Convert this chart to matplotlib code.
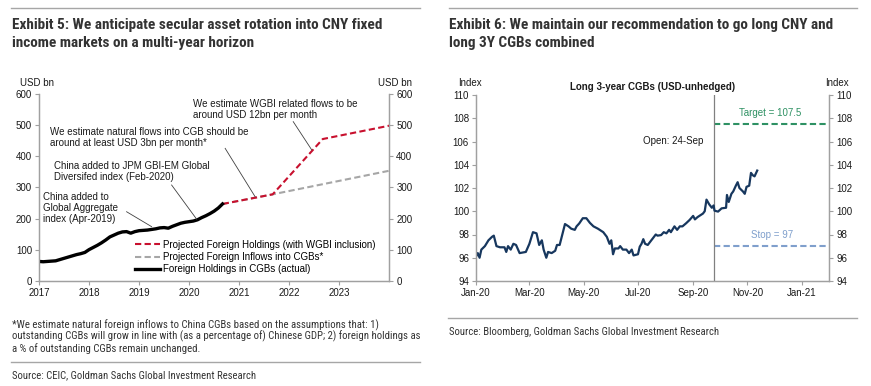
import matplotlib
matplotlib.use("Agg")
import matplotlib.pyplot as plt
import matplotlib.dates as mdates
from matplotlib import font_manager
from matplotlib.font_manager import FontProperties
import numpy as np
import pandas as pd

# ---------------- data ----------------
# Exhibit 5: foreign holdings of CGBs (USD bn), monthly Jan-2017 .. Sep-2020
actual_start = "2017-01"
actual_values = [62, 61, 62, 63, 64, 68, 72, 76, 80, 84, 87, 91,
                 100, 107, 114, 122, 131, 141, 147, 153, 157, 158, 153, 158,
                 161, 162, 163, 165, 167, 170, 171, 169, 175, 180, 185, 188,
                 190, 192, 196, 203, 209, 216, 224, 234, 247]
proj_natural_x = [2020.67, 2021.67, 2024.0]
proj_natural_y = [247, 278, 354]
proj_wgbi_x = [2020.67, 2021.67, 2022.67, 2024.0]
proj_wgbi_y = [247, 278, 456, 499]
left_yticks = [0, 100, 200, 300, 400, 500, 600]
left_xticks = [2017, 2018, 2019, 2020, 2021, 2022, 2023]

# Exhibit 6: Long 3-year CGBs (USD-unhedged) index; day offsets from 1-Jan-2020
cgb_days = [0, 2, 4, 6, 10, 14, 18, 20, 23, 27, 32, 34, 36, 39, 42, 45, 49, 56, 60, 64,
            68, 71, 74, 76, 79, 81, 85, 89, 91, 94, 97, 100, 104, 107, 111, 113, 116, 120,
            124, 128, 132, 137, 143, 147, 150, 152, 154, 156, 160, 162, 165, 169, 172, 175,
            177, 182, 184, 186, 188, 190, 193, 196, 199, 202, 204, 208, 211, 214, 217, 219,
            223, 226, 229, 232, 236, 240, 244, 246, 249, 255, 257, 259, 262, 265, 267, 268,
            272, 276, 281, 282, 284, 287, 289, 292, 294, 296, 300, 302, 304, 307, 309, 311,
            313, 316]
cgb_values = [96.1, 96.4, 96.0, 96.7, 97.0, 97.5, 97.8, 97.9, 97.0, 96.9, 96.9, 96.5,
              97.0, 96.7, 97.2, 97.1, 96.4, 96.5, 97.2, 98.2, 98.1, 97.1, 97.5, 96.7,
              96.0, 96.5, 96.4, 96.6, 97.1, 97.1, 98.0, 98.9, 98.7, 98.5, 98.4, 98.7,
              98.95, 99.4, 99.4, 99.0, 98.7, 98.5, 98.2, 97.8, 97.2, 97.5, 96.3, 96.8,
              96.8, 97.0, 96.7, 96.7, 96.4, 96.7, 96.2, 96.3, 96.95, 97.2, 97.6, 97.2,
              97.1, 97.4, 97.7, 98.0, 97.9, 97.95, 98.2, 98.1, 98.4, 98.2, 98.7, 98.4,
              98.7, 98.7, 98.96, 99.25, 99.6, 99.3, 99.5, 99.8, 100.0, 101.0, 100.6,
              100.3, 100.5, 100.05, 99.97, 100.25, 100.3, 101.4, 100.8, 101.5, 101.7,
              102.2, 102.5, 102.0, 101.7, 101.5, 102.1, 102.2, 103.3, 103.1, 103.0, 103.5]
open_date = "2020-09-24"
target_level = 107.5
stop_level = 97
right_yticks = [94, 96, 98, 100, 102, 104, 106, 108, 110]

# ---------------- fonts ----------------
avail = {f.name for f in font_manager.fontManager.ttflist}
body_font = "Liberation Sans" if "Liberation Sans" in avail else "DejaVu Sans"
plt.rcParams["font.family"] = [body_font, "DejaVu Sans"]
FS = 7.0
plt.rcParams["font.size"] = FS


def _is_bold(f):
    w = f.weight
    if isinstance(w, str):
        return "bold" in w.lower() or "black" in w.lower()
    return w >= 600


def find_narrow(bold):
    prefs = ["liberation sans narrow", "roboto condensed", "open sans condensed",
             "noto sans condensed", "dejavu sans condensed", "dejavu sans", "noto sans",
             "roboto", "open sans", "inter", "lato"]
    best = None
    for f in font_manager.fontManager.ttflist:
        nm = f.name.lower()
        fn = f.fname.lower()
        st = str(f.stretch).lower()
        narrow = ("narrow" in nm or "condensed" in nm or "narrow" in fn or "condensed" in fn
                  or "condensed" in st)
        if not narrow or "mono" in nm or "serif" in nm.replace("sans", "") and "sans" not in nm:
            continue
        if _is_bold(f) != bold or "italic" in fn or "oblique" in fn or str(f.style) != "normal":
            continue
        key = nm + (" condensed" if "condensed" in fn and "condensed" not in nm else "")
        rank = len(prefs)
        for i, p in enumerate(prefs):
            if key.startswith(p):
                rank = i
                break
        if best is None or rank < best[0]:
            best = (rank, f.fname)
    return best[1] if best else None


narrow_bold = find_narrow(True)
narrow_reg = find_narrow(False)


def fp(path, fallback_weight, size):
    if path:
        return FontProperties(fname=path, size=size)
    return FontProperties(family=body_font, weight=fallback_weight, size=size)


W, H = 871, 386
fig = plt.figure(figsize=(W / 100, H / 100), dpi=100)
renderer = fig.canvas.get_renderer()


def ftext(px, py, s, **kw):
    return fig.text(px / W, 1 - py / H, s, **kw)


def fit_width(t, target_px):
    w = t.get_window_extent(renderer=renderer).width
    if w > 0:
        t.set_fontsize(t.get_fontsize() * target_px / w)


def fline(x0, x1, py, color="#a6a6a6", lw=1.0):
    fig.add_artist(plt.Line2D([x0 / W, x1 / W], [1 - py / H, 1 - py / H],
                              color=color, lw=lw, transform=fig.transFigure))


title_color = "#333333"
spine_color = "#a0a0a0"
text_color = "#1a1a1a"


def style_axes(ax):
    for s in ["left", "right", "bottom"]:
        ax.spines[s].set_color(spine_color)
        ax.spines[s].set_linewidth(0.9)
    ax.spines["top"].set_visible(False)
    ax.tick_params(colors=spine_color, labelcolor=text_color, length=3, width=0.8,
                   labelsize=FS, pad=2)


# ---------------- Exhibit 5 ----------------
fline(11, 420, 8.3)
t = ftext(11.7, 25, "Exhibit 5: We anticipate secular asset rotation into CNY fixed",
          fontproperties=fp(narrow_bold, "bold", 11), color=title_color, va="center", ha="left")
fit_width(t, 369)
ftext(11.7, 43.3, "income markets on a multi-year horizon",
      fontproperties=fp(narrow_bold, "bold", t.get_fontsize()), color=title_color,
      va="center", ha="left")

ax1 = fig.add_axes([39 / W, 1 - 280.7 / H, 350.3 / W, 186.4 / H])
style_axes(ax1)
ax1.set_xlim(2017, 2024)
ax1.set_ylim(0, 600)
ax1.set_xticks(left_xticks)
ax1.set_xticklabels([str(v) for v in left_xticks])
ax1.set_yticks(left_yticks)

act_dates = pd.period_range(actual_start, periods=len(actual_values), freq="M")
act_x = np.array([p.year + (p.month - 1) / 12 for p in act_dates])
l_red, = ax1.plot(proj_wgbi_x, proj_wgbi_y, color="#c8102e", lw=1.5, ls=(0, (3, 1.6)),
                  label="Projected Foreign Holdings (with WGBI inclusion)", zorder=3)
l_grey, = ax1.plot(proj_natural_x, proj_natural_y, color="#a6a6a6", lw=1.5, ls=(0, (3, 1.6)),
                   label="Projected Foreign Inflows into CGBs*", zorder=2)
l_black, = ax1.plot(act_x, actual_values, color="black", lw=2.4,
                    label="Foreign Holdings in CGBs (actual)", zorder=4)

ax1r = ax1.twinx()
style_axes(ax1r)
ax1r.set_ylim(0, 600)
ax1r.set_yticks(left_yticks)

ax1.legend(handles=[l_red, l_grey, l_black], loc="lower left",
           bbox_to_anchor=(0.255, 0.0), frameon=False, fontsize=FS,
           handlelength=2.6, handletextpad=0.35, labelspacing=0.25, borderaxespad=0.25)

ann_kw = dict(fontsize=FS, color=text_color, ha="left", va="center", linespacing=1.15)
ax1.text(2020.07, 550, "We estimate WGBI related flows to be\naround USD 12bn per month", **ann_kw)
ax1.text(2017.22, 460, "We estimate natural flows into CGB should be\naround at least USD 3bn per month*", **ann_kw)
ax1.text(2017.30, 351, "China added to JPM GBI-EM Global\nDiversifed index (Feb-2020)", **ann_kw)
ax1.text(2017.074, 234, "China added to\nGlobal Aggregate\nindex (Apr-2019)", **ann_kw)
lead_kw = dict(color="#404040", lw=0.6, zorder=5)
ax1.plot([2022.08, 2022.45], [512, 421], **lead_kw)
ax1.plot([2020.72, 2021.32], [426, 270], **lead_kw)
ax1.plot([2019.65, 2020.15], [308, 198], **lead_kw)
ax1.plot([2018.75, 2019.25], [222, 174], **lead_kw)

ftext(36.5, 82.7, "USD bn", ha="center", va="center", fontsize=FS, color=text_color)
ftext(394.5, 82.7, "USD bn", ha="center", va="center", fontsize=FS, color=text_color)

foot_lines = ["*We estimate natural foreign inflows to China CGBs based on the assumptions that: 1)",
              "outstanding CGBs will grow in line with (as a percentage of) Chinese GDP; 2) foreign holdings as",
              "a % of outstanding CGBs remain unchanged."]
tf = ftext(11.7, 336.7, foot_lines[1], fontproperties=fp(narrow_reg, "normal", 7.5),
           color=title_color, ha="left", va="center")
fit_width(tf, 405)
fs_foot = tf.get_fontsize()
ftext(11.7, 325.0, foot_lines[0], fontproperties=fp(narrow_reg, "normal", fs_foot),
      color=title_color, ha="left", va="center")
ftext(11.7, 348.3, foot_lines[2], fontproperties=fp(narrow_reg, "normal", fs_foot),
      color=title_color, ha="left", va="center")
fline(11, 420, 361.7)
ts1 = ftext(11.7, 375, "Source: CEIC, Goldman Sachs Global Investment Research",
            fontproperties=fp(narrow_reg, "normal", 7.5), color=title_color, ha="left", va="center")
fit_width(ts1, 244)

# ---------------- Exhibit 6 ----------------
fline(449, 857, 8.3)
ftext(449.3, 25, "Exhibit 6: We maintain our recommendation to go long CNY and",
      fontproperties=fp(narrow_bold, "bold", t.get_fontsize()), color=title_color,
      va="center", ha="left")
ftext(449.3, 43.3, "long 3Y CGBs combined",
      fontproperties=fp(narrow_bold, "bold", t.get_fontsize()), color=title_color,
      va="center", ha="left")

ax2 = fig.add_axes([476 / W, 1 - 281 / H, 353.3 / W, 186 / H])
style_axes(ax2)
base = pd.Timestamp("2020-01-01")
cgb_dates = base + pd.to_timedelta(cgb_days, unit="D")
ax2.plot(cgb_dates, cgb_values, color="#17375e", lw=1.6, zorder=4)
end = pd.Timestamp("2021-02-01")
ax2.set_xlim(base, end)
ax2.set_ylim(94, 110)
ax2.set_yticks(right_yticks)
ax2.xaxis.set_major_locator(mdates.MonthLocator(bymonth=[1, 3, 5, 7, 9, 11]))
ax2.xaxis.set_major_formatter(mdates.DateFormatter("%b-%y"))

od = pd.Timestamp(open_date)
ax2.axvline(od, color="#808080", lw=0.9, zorder=3)
ax2.plot([od, end], [target_level, target_level], color="#2e9163", lw=1.5, ls=(0, (3, 1.6)))
ax2.plot([od, end], [stop_level, stop_level], color="#7f9fcc", lw=1.5, ls=(0, (3, 1.6)))
ax2.text(base + pd.Timedelta(days=255), 106, "Open: 24-Sep", ha="right", va="center",
         fontsize=FS, color=text_color)
ax2.text(base + pd.Timedelta(days=331), 108.48, "Target = 107.5", ha="center", va="center",
         fontsize=FS, color="#2e9163")
ax2.text(base + pd.Timedelta(days=332.6), 97.96, "Stop = 97", ha="center", va="center",
         fontsize=FS, color="#7f9fcc")

ax2r = ax2.twinx()
style_axes(ax2r)
ax2r.set_ylim(94, 110)
ax2r.set_yticks(right_yticks)

ftext(652.5, 87.3, "Long 3-year CGBs (USD-unhedged)", ha="center", va="center",
      fontsize=FS, fontweight="bold", color=text_color)
ftext(469.5, 82.7, "Index", ha="center", va="center", fontsize=FS, color=text_color)
ftext(837, 82.7, "Index", ha="center", va="center", fontsize=FS, color=text_color)

fline(448, 857, 318.3)
ftext(449.3, 331.7, "Source: Bloomberg, Goldman Sachs Global Investment Research",
      fontproperties=fp(narrow_reg, "normal", ts1.get_fontsize()), color=title_color,
      ha="left", va="center")

fig.savefig("out.png", dpi=100)
